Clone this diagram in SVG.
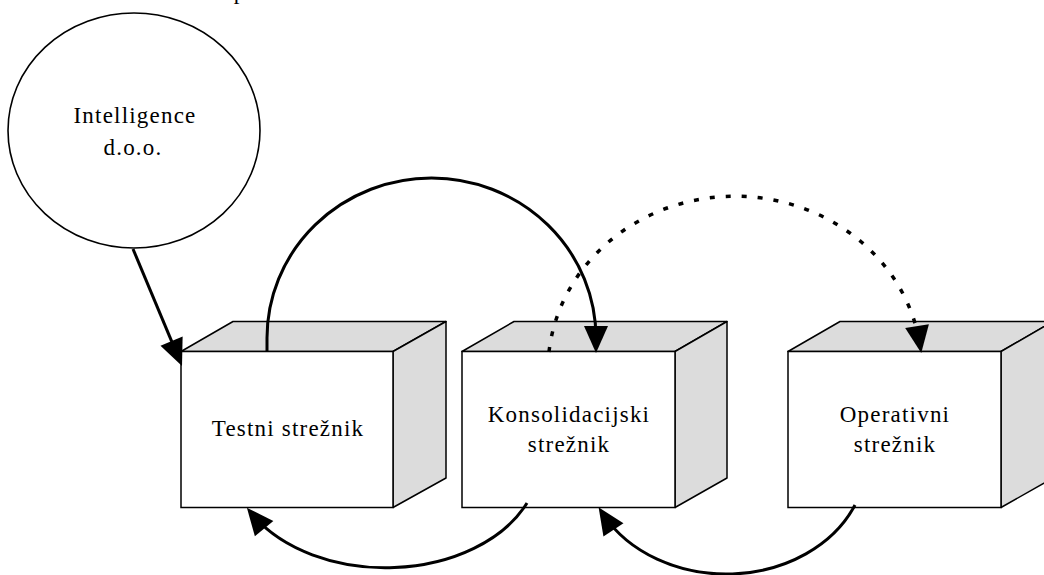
<svg xmlns="http://www.w3.org/2000/svg" width="1044" height="575" viewBox="0 0 1044 575">
<style>
.bg{fill:#fff}
.front{fill:#fff;stroke:#000;stroke-width:1.5}
.shade{fill:#dcdcdc;stroke:#000;stroke-width:1.5;stroke-linejoin:round}
.circ{fill:#fff;stroke:#000;stroke-width:1.6}
.lbl{font-family:"Liberation Serif","Times New Roman",serif;font-size:23px;letter-spacing:1.2px;fill:#000;text-anchor:middle}
.conn{fill:none;stroke:#000;stroke-width:3}
.dot{fill:none;stroke:#000;stroke-width:3.5;stroke-dasharray:5 11}
</style>
<defs>
<marker id="ah" markerUnits="userSpaceOnUse" markerWidth="30" markerHeight="26" viewBox="-28 -13 30 26" refX="-8" refY="0" orient="auto">
<path d="M0,0 L-27,-12 L-27,12 Z" fill="#000"/>
</marker>
</defs>
<rect class="bg" x="0" y="0" width="1044" height="575"/>
<text class="lbl" x="240" y="-1">p</text>

<g id="intelligence">
<ellipse class="circ" cx="134" cy="130.5" rx="126" ry="117.5"/>
<text class="lbl" x="135" y="123">Intelligence</text>
<text class="lbl" x="133" y="155">d.o.o.</text>
</g>

<g id="testni">
<polygon class="shade" points="181,351.5 233,321.5 446,321.5 393,351.5"/>
<polygon class="shade" points="393,351.5 446,321.5 446,478 393,507.5"/>
<rect class="front" x="181" y="351.5" width="212" height="156"/>
<text class="lbl" x="288" y="435.7">Testni strežnik</text>
</g>

<g id="konsolidacijski">
<polygon class="shade" points="462,351.5 514,321.5 727,321.5 675,351.5"/>
<polygon class="shade" points="675,351.5 727,321.5 727,478 675,507.5"/>
<rect class="front" x="462" y="351.5" width="213" height="156"/>
<text class="lbl" x="569" y="421.7">Konsolidacijski</text>
<text class="lbl" x="569" y="451.7">strežnik</text>
</g>

<g id="operativni">
<polygon class="shade" points="788,351.5 840,321.5 1053,321.5 1001,351.5"/>
<polygon class="shade" points="1001,351.5 1053,321.5 1053,478 1001,507.5"/>
<rect class="front" x="788" y="351.5" width="213" height="156"/>
<text class="lbl" x="895" y="421.7">Operativni</text>
<text class="lbl" x="895" y="451.7">strežnik</text>
</g>

<g id="connectors">
<path class="conn" d="M133,249 L178.9,358.6" marker-end="url(#ah)"/>
<path class="conn" d="M267,352 L267,338 A164.5,160 0 0 1 596,338 L596,345" marker-end="url(#ah)"/>
<path class="dot" d="M549,352 A187,174 0 0 1 920,345" marker-end="url(#ah)"/>
<path class="conn" d="M527,503 A154,107 0 0 1 252,514" marker-end="url(#ah)"/>
<path class="conn" d="M855,505 A140,114 0 0 1 603,514" marker-end="url(#ah)"/>
</g>
</svg>
